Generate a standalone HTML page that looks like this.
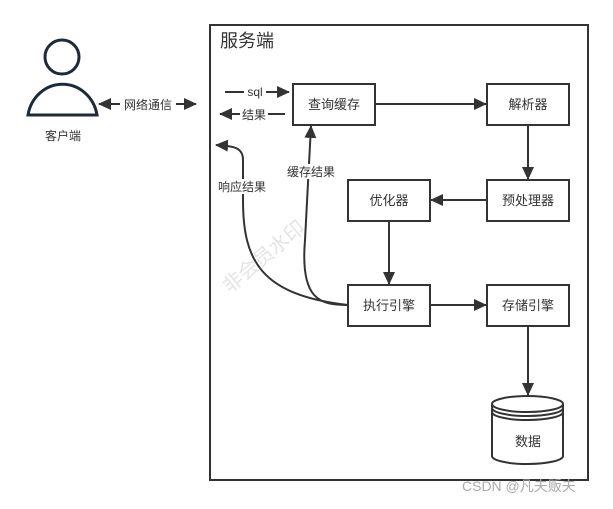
<!DOCTYPE html>
<html><head><meta charset="utf-8"><style>
body{margin:0;background:#fff;}
svg text{font-family:"Liberation Sans","Noto Sans CJK SC",sans-serif;fill:#333;}
</style></head><body>
<svg width="613" height="504" viewBox="0 0 613 504" xmlns="http://www.w3.org/2000/svg">
<defs><marker id="a" markerWidth="13" markerHeight="12" refX="12" refY="6" orient="auto" markerUnits="userSpaceOnUse"><path d="M0,0 L13,6 L0,12 z" fill="#333"/></marker></defs>
<rect x="210" y="25" width="378" height="455" fill="none" stroke="#333" stroke-width="2"/>
<text x="220" y="47" font-size="18">服务端</text>
<!-- person -->
<circle cx="62" cy="57" r="17" fill="#fff" stroke="#1e2a3a" stroke-width="3"/>
<path d="M28,115 A35,37 0 0 1 97,115 Z" fill="#fff" stroke="#1e2a3a" stroke-width="3"/>
<text x="63" y="140" font-size="12" text-anchor="middle">客户端</text>
<!-- network -->
<line x1="108" y1="104" x2="196" y2="104" stroke="#333" stroke-width="2" marker-end="url(#a)"/>
<line x1="190" y1="104" x2="99" y2="104" stroke="#333" stroke-width="2" marker-end="url(#a)"/>
<rect x="120" y="96" width="56" height="16" fill="#fff"/>
<text x="148" y="109" font-size="12" text-anchor="middle">网络通信</text>
<!-- sql / result -->
<line x1="225" y1="92" x2="289" y2="92" stroke="#333" stroke-width="2" marker-end="url(#a)"/>
<rect x="244" y="84" width="22" height="14" fill="#fff"/>
<text x="255" y="96" font-size="12" text-anchor="middle">sql</text>
<line x1="285" y1="114" x2="220" y2="114" stroke="#333" stroke-width="2" marker-end="url(#a)"/>
<rect x="240" y="106" width="28" height="16" fill="#fff"/>
<text x="254" y="119" font-size="12" text-anchor="middle">结果</text>
<!-- boxes -->
<g fill="#fff" stroke="#333" stroke-width="2">
<rect x="293" y="84" width="82" height="41"/>
<rect x="487" y="84" width="82" height="41"/>
<rect x="487" y="180" width="82" height="41"/>
<rect x="348" y="180" width="82" height="41"/>
<rect x="348" y="285" width="82" height="41"/>
<rect x="487" y="285" width="82" height="41"/>
</g>
<g font-size="13" text-anchor="middle">
<text x="334" y="109">查询缓存</text>
<text x="528" y="109">解析器</text>
<text x="528" y="205">预处理器</text>
<text x="389" y="205">优化器</text>
<text x="389" y="310">执行引擎</text>
<text x="528" y="310">存储引擎</text>
</g>
<g stroke="#333" stroke-width="2" fill="none">
<line x1="375" y1="104" x2="486" y2="104" marker-end="url(#a)"/>
<line x1="528" y1="125" x2="528" y2="179" marker-end="url(#a)"/>
<line x1="487" y1="200" x2="431" y2="200" marker-end="url(#a)"/>
<line x1="389" y1="221" x2="389" y2="284" marker-end="url(#a)"/>
<line x1="430" y1="305" x2="486" y2="305" marker-end="url(#a)"/>
<line x1="528" y1="326" x2="528" y2="395" marker-end="url(#a)"/>
<path d="M348,305 C320,305 300,300 305,240 L311,126" marker-end="url(#a)"/>
<path d="M348,305 C260,295 243,260 243,200 L243,160 C243,148 235,146 216,145" marker-end="url(#a)"/>
</g>
<rect x="285" y="164" width="52" height="15" fill="#fff"/>
<text x="311" y="176" font-size="12" text-anchor="middle">缓存结果</text>
<rect x="216" y="179" width="52" height="15" fill="#fff"/>
<text x="242" y="191" font-size="12" text-anchor="middle">响应结果</text>
<!-- cylinder -->
<g fill="#fff" stroke="#333" stroke-width="2">
<path d="M492,404 L492,456 A35.5,8 0 0 0 563,456 L563,404"/>
<ellipse cx="527.5" cy="404" rx="35.5" ry="8"/>
<path d="M492,408 A35.5,8 0 0 0 563,408" fill="none"/>
<path d="M492,412 A35.5,8 0 0 0 563,412" fill="none"/>
</g>
<text x="528" y="446" font-size="13" text-anchor="middle">数据</text>
<text x="268" y="262" font-size="20" style="fill:#e4e4e4" transform="rotate(-40 268 262)" text-anchor="middle">非会员水印</text>
<text x="462" y="491" font-size="14" style="fill:#aaa">CSDN @凡夫贩夫</text>
</svg>
</body></html>
